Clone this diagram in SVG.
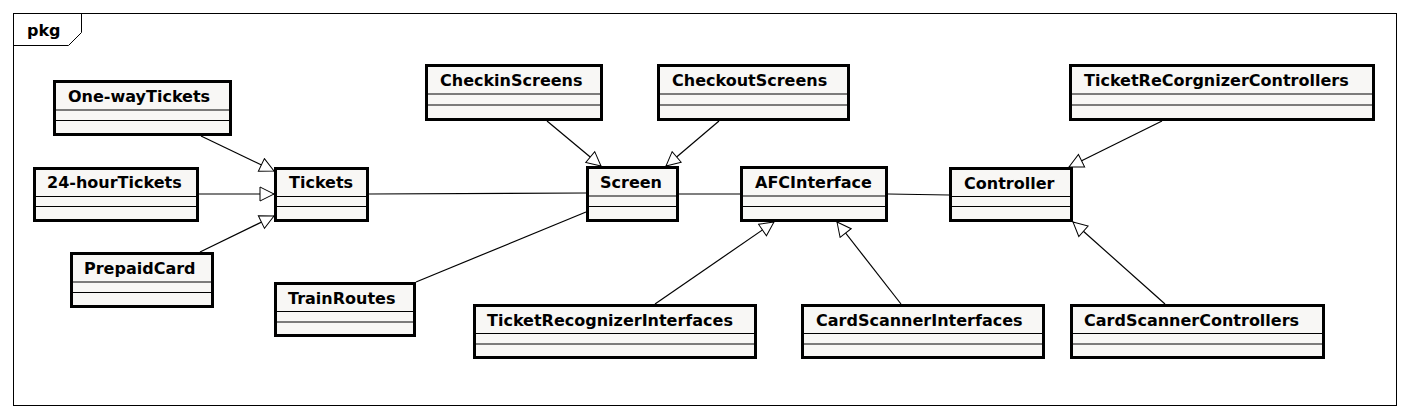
<svg xmlns="http://www.w3.org/2000/svg" width="1412" height="418" viewBox="0 0 1412 418">
<style>
.box{fill:#f8f7f5;stroke:#000;stroke-width:3}
.div{stroke:#000;stroke-width:1}
.lbl{font-family:"DejaVu Sans",sans-serif;font-weight:bold;font-size:16px;fill:#000}
.frame{fill:none;stroke:#000;stroke-width:1}
.conn line{stroke:#000;stroke-width:1.2}
.gen{marker-end:url(#tri)}
</style>
<defs>
<marker id="tri" viewBox="0 0 16 16" refX="15" refY="8" markerWidth="16" markerHeight="16" markerUnits="userSpaceOnUse" orient="auto">
<path d="M1,1 L15,8 L1,15 Z" fill="#fff" stroke="#000" stroke-width="1"/>
</marker>
</defs>
<rect width="1412" height="418" fill="#fff"/>
<g id="frame">
<rect class="frame" x="13.5" y="13.5" width="1383" height="392"/>
<path class="frame" d="M13.5,45.5 H68.5 L81.5,32.5 V13.5"/>
<text class="lbl" x="27" y="36">pkg</text>
</g>
<g id="connectors" class="conn">
<line class="gen" x1="201" y1="136" x2="274" y2="171"/>
<line class="gen" x1="199" y1="194" x2="274" y2="194"/>
<line class="gen" x1="200" y1="252" x2="274" y2="216"/>
<line x1="369" y1="194" x2="586" y2="193"/>
<line x1="416" y1="282" x2="586" y2="212"/>
<line class="gen" x1="547" y1="121" x2="601" y2="166"/>
<line class="gen" x1="719" y1="121" x2="666" y2="166"/>
<line x1="679" y1="194" x2="740" y2="194"/>
<line x1="888" y1="194" x2="949" y2="195"/>
<line class="gen" x1="1162" y1="121" x2="1069" y2="167"/>
<line class="gen" x1="655" y1="304" x2="774" y2="222"/>
<line class="gen" x1="901" y1="304" x2="837" y2="222"/>
<line class="gen" x1="1165" y1="304" x2="1073" y2="222"/>
</g>
<g id="OneWayTickets" transform="translate(53,80)">
<rect class="box" x="1.5" y="1.5" width="176" height="53"/>
<line class="div" x1="3" y1="30" x2="176" y2="30"/><line class="div" x1="3" y1="40.5" x2="176" y2="40.5"/>
<text class="lbl" x="15" y="22">One-wayTickets</text>
</g>
<g id="HourTickets24" transform="translate(33,167)">
<rect class="box" x="1.5" y="1.5" width="163" height="52"/>
<line class="div" x1="3" y1="29.5" x2="163" y2="29.5"/><line class="div" x1="3" y1="39.5" x2="163" y2="39.5"/>
<text class="lbl" x="14" y="21">24-hourTickets</text>
</g>
<g id="PrepaidCard" transform="translate(70,252)">
<rect class="box" x="1.5" y="1.5" width="141" height="53"/>
<line class="div" x1="3" y1="30" x2="141" y2="30"/><line class="div" x1="3" y1="40.5" x2="141" y2="40.5"/>
<text class="lbl" x="14" y="22">PrepaidCard</text>
</g>
<g id="Tickets" transform="translate(274,167)">
<rect class="box" x="1.5" y="1.5" width="92" height="52"/>
<line class="div" x1="3" y1="29.5" x2="92" y2="29.5"/><line class="div" x1="3" y1="39.5" x2="92" y2="39.5"/>
<text class="lbl" x="15" y="21">Tickets</text>
</g>
<g id="TrainRoutes" transform="translate(274,282)">
<rect class="box" x="1.5" y="1.5" width="139" height="52"/>
<line class="div" x1="3" y1="29.5" x2="139" y2="29.5"/><line class="div" x1="3" y1="40" x2="139" y2="40"/>
<text class="lbl" x="14" y="21.5">TrainRoutes</text>
</g>
<g id="CheckinScreens" transform="translate(425,64)">
<rect class="box" x="1.5" y="1.5" width="175" height="54"/>
<line class="div" x1="3" y1="30" x2="175" y2="30"/><line class="div" x1="3" y1="41" x2="175" y2="41"/>
<text class="lbl" x="15" y="22">CheckinScreens</text>
</g>
<g id="CheckoutScreens" transform="translate(657,64)">
<rect class="box" x="1.5" y="1.5" width="190" height="54"/>
<line class="div" x1="3" y1="30" x2="190" y2="30"/><line class="div" x1="3" y1="41" x2="190" y2="41"/>
<text class="lbl" x="15" y="22">CheckoutScreens</text>
</g>
<g id="Screen" transform="translate(586,166)">
<rect class="box" x="1.5" y="1.5" width="90" height="53"/>
<line class="div" x1="3" y1="30" x2="90" y2="30"/><line class="div" x1="3" y1="40.5" x2="90" y2="40.5"/>
<text class="lbl" x="14" y="22">Screen</text>
</g>
<g id="AFCInterface" transform="translate(740,166)">
<rect class="box" x="1.5" y="1.5" width="145" height="53"/>
<line class="div" x1="3" y1="30" x2="145" y2="30"/><line class="div" x1="3" y1="40.5" x2="145" y2="40.5"/>
<text class="lbl" x="15" y="22">AFCInterface</text>
</g>
<g id="Controller" transform="translate(949,167)">
<rect class="box" x="1.5" y="1.5" width="121" height="52"/>
<line class="div" x1="3" y1="29.5" x2="121" y2="29.5"/><line class="div" x1="3" y1="39.5" x2="121" y2="39.5"/>
<text class="lbl" x="15" y="21.5">Controller</text>
</g>
<g id="TicketReCorgnizerControllers" transform="translate(1069,64)">
<rect class="box" x="1.5" y="1.5" width="303" height="54"/>
<line class="div" x1="3" y1="30" x2="303" y2="30"/><line class="div" x1="3" y1="41" x2="303" y2="41"/>
<text class="lbl" x="15" y="22">TicketReCorgnizerControllers</text>
</g>
<g id="TicketRecognizerInterfaces" transform="translate(473,304)">
<rect class="box" x="1.5" y="1.5" width="281" height="52"/>
<line class="div" x1="3" y1="29.5" x2="281" y2="29.5"/><line class="div" x1="3" y1="40" x2="281" y2="40"/>
<text class="lbl" x="14" y="21.5">TicketRecognizerInterfaces</text>
</g>
<g id="CardScannerInterfaces" transform="translate(801,304)">
<rect class="box" x="1.5" y="1.5" width="241" height="52"/>
<line class="div" x1="3" y1="29.5" x2="241" y2="29.5"/><line class="div" x1="3" y1="40" x2="241" y2="40"/>
<text class="lbl" x="15" y="21.5">CardScannerInterfaces</text>
</g>
<g id="CardScannerControllers" transform="translate(1070,304)">
<rect class="box" x="1.5" y="1.5" width="252" height="52"/>
<line class="div" x1="3" y1="29.5" x2="252" y2="29.5"/><line class="div" x1="3" y1="40" x2="252" y2="40"/>
<text class="lbl" x="14" y="21.5">CardScannerControllers</text>
</g>
</svg>
